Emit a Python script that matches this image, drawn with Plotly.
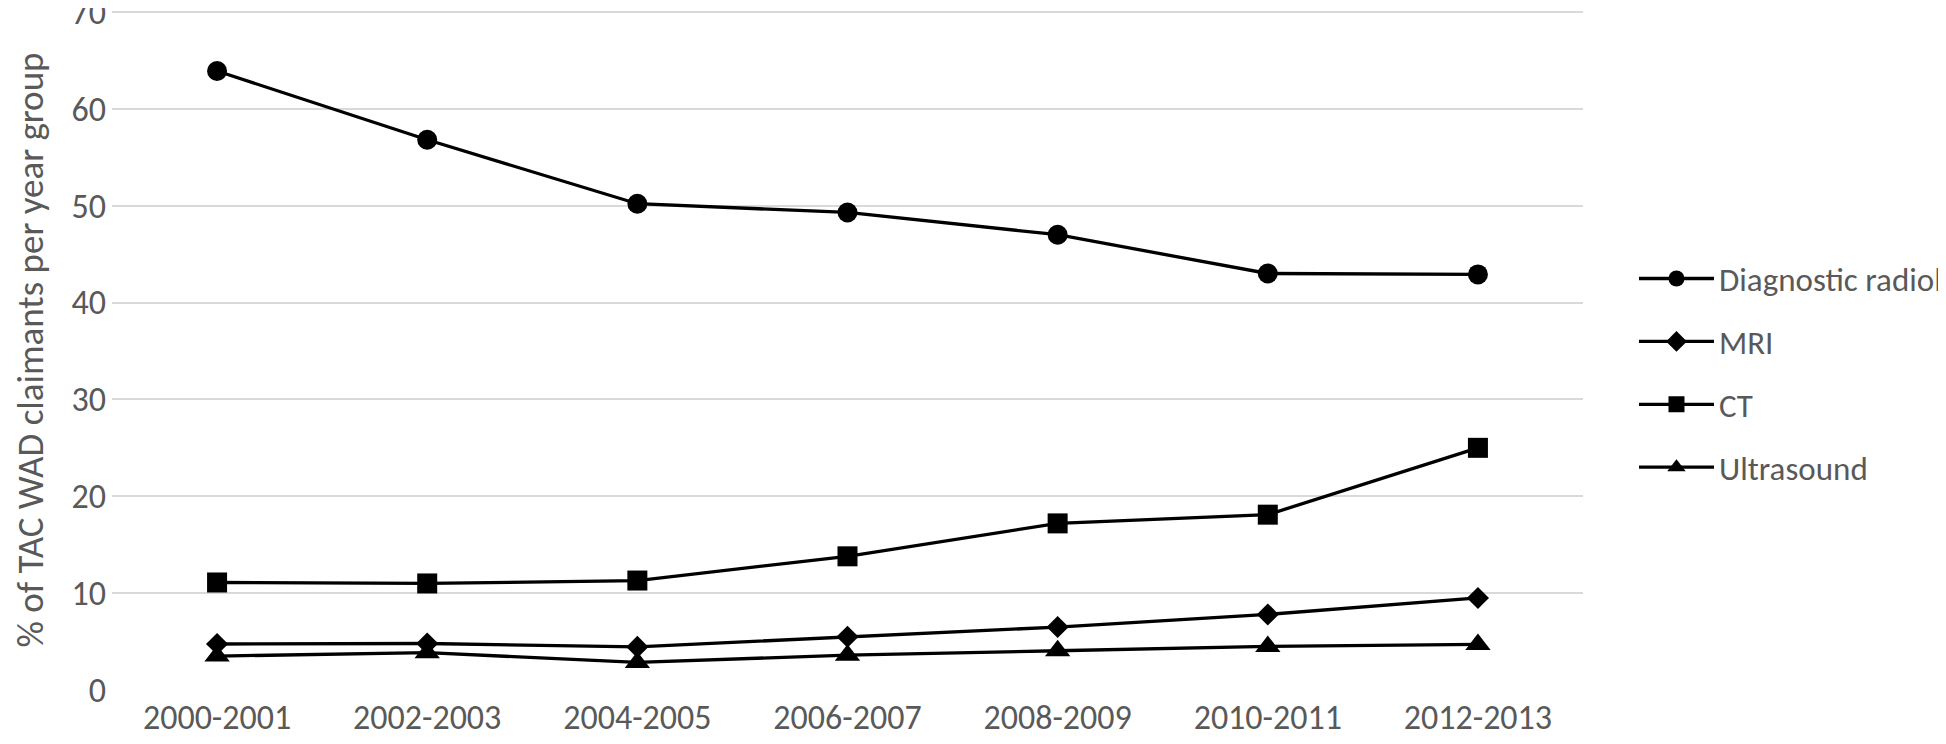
import plotly.graph_objects as go

categories = ["2000-2001", "2002-2003", "2004-2005", "2006-2007", "2008-2009", "2010-2011", "2012-2013"]
diagnostic = [63.9, 56.8, 50.2, 49.3, 47.0, 43.0, 42.9]
mri = [4.75, 4.8, 4.45, 5.5, 6.5, 7.8, 9.5]
ct = [11.1, 11.0, 11.3, 13.8, 17.2, 18.1, 25.0]
ultrasound = [3.5, 3.85, 2.85, 3.6, 4.05, 4.5, 4.7]

FONT = "Carlito, Lato, sans-serif"
TXT = "#595959"

series = [
    ("Diagnostic radiology", diagnostic, "circle", 20),
    ("MRI", mri, "diamond", 17),
    ("CT", ct, "square", 20),
    ("Ultrasound", ultrasound, "triangle-up", 22),
]

fig = go.Figure()
for i, (name, vals, sym, sz) in enumerate(series):
    fig.add_trace(go.Scatter(
        x=categories, y=vals, name=name, mode="lines+markers",
        legendgroup=f"g{i}",
        line=dict(color="black", width=3.3),
        marker=dict(symbol=sym, size=sz, color="black"),
    ))

# page body adds an 8px offset, so the figure is sized to fit the window
fig.update_layout(
    width=1938, height=736,
    margin=dict(l=104, r=363, t=2, b=54),
    paper_bgcolor="white", plot_bgcolor="white",
    font=dict(family=FONT, size=34, color=TXT),
    showlegend=True,
    legend=dict(
        xref="container", yref="container",
        x=0.839, y=0.504, xanchor="left", yanchor="middle",
        font=dict(family=FONT, size=33, color=TXT),
        tracegroupgap=17, itemwidth=75,
        bgcolor="rgba(0,0,0,0)",
    ),
    xaxis=dict(
        type="category", range=[-0.5, 6.5],
        showgrid=False, showline=False, zeroline=False,
        ticks="", ticklabelstandoff=4, automargin=False,
        tickfont=dict(family=FONT, size=34, color=TXT),
    ),
    yaxis=dict(
        range=[0, 70.2], tickvals=[0, 10, 20, 30, 40, 50, 60, 70],
        showgrid=True, gridcolor="#d9d9d9", gridwidth=2,
        zeroline=False, showline=False, ticks="",
        ticklabelstandoff=5, automargin="left", ticklabeloverflow="allow",
        tickfont=dict(family=FONT, size=34, color=TXT),
        title=dict(text="% of TAC WAD claimants per year group",
                   font=dict(family=FONT, size=37, color=TXT), standoff=28),
    ),
)

fig.write_html("out.html")
